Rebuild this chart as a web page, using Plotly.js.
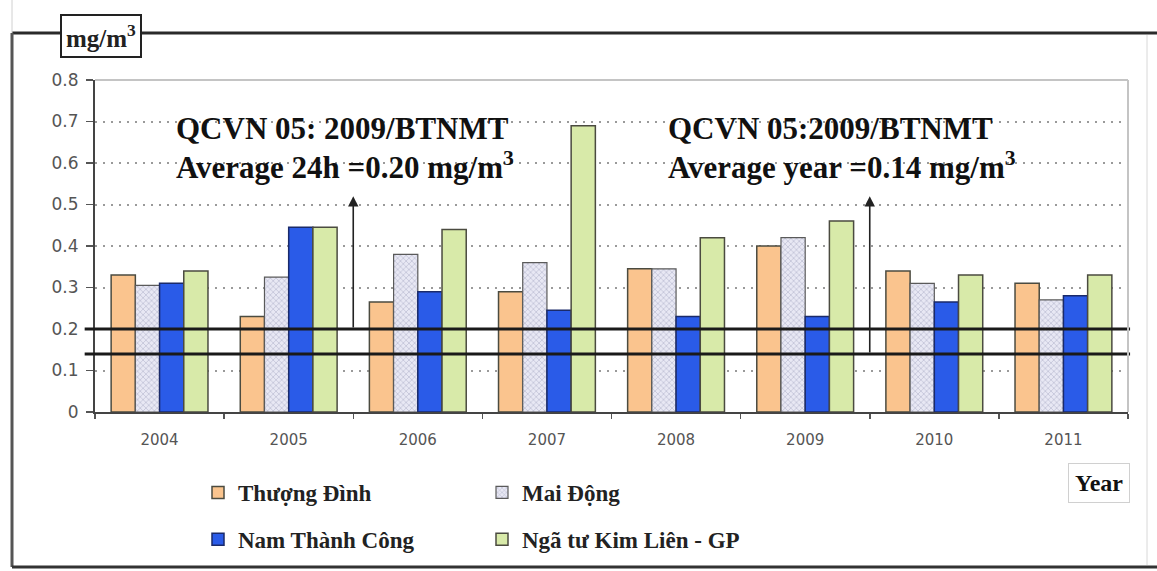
<!DOCTYPE html>
<html>
<head>
<meta charset="utf-8">
<script src="https://cdn.plot.ly/plotly-3.0.1.min.js"></script>
<style>html,body{margin:0;padding:0;background:#fff;}#chart{width:1157px;height:571px;}</style>
</head>
<body>
<div id="chart"></div>
<script>
// ---- data ----
const years = ['2004','2005','2006','2007','2008','2009','2010','2011'];
const seriesNames = ['Thượng Đình','Mai Động','Nam Thành Công','Ngã tư Kim Liên - GP'];
const thuongDinh   = [0.33, 0.23, 0.265, 0.29, 0.345, 0.40, 0.34, 0.31];
const maiDong      = [0.305, 0.325, 0.38, 0.36, 0.345, 0.42, 0.31, 0.27];
const namThanhCong = [0.31, 0.445, 0.29, 0.245, 0.23, 0.23, 0.265, 0.28];
const kimLien      = [0.34, 0.445, 0.44, 0.69, 0.42, 0.46, 0.33, 0.33];
const limit24h = 0.20;
const limitYear = 0.14;
const yTicks = [0, 0.1, 0.2, 0.3, 0.4, 0.5, 0.6, 0.7, 0.8];
const yTickText = ['0','0.1','0.2','0.3','0.4','0.5','0.6','0.7','0.8'];
const note1 = ['QCVN 05: 2009/BTNMT', 'Average 24h =0.20 mg/m<sup>3</sup>'];
const note2 = ['QCVN 05:2009/BTNMT', 'Average year =0.14 mg/m<sup>3</sup>'];
const unitLabel = 'mg/m<sup>3</sup>';
const xLabel = 'Year';

// ---- plot ----
const edge = '#4b4b40';
const serif = 'Liberation Serif, Times New Roman, serif';
const traces = [
  {name: seriesNames[0], y: thuongDinh, marker: {color: '#fac48e', line: {color: edge, width: 1.5}}, legend: 'legend', legendgroup: 'a'},
  {name: seriesNames[1], y: maiDong, marker: {color: '#e4e4f1', line: {color: '#5a5a5a', width: 1.2},
     pattern: {shape: 'x', fgcolor: '#aeb0c8', bgcolor: '#e8e8f4', size: 4, solidity: 0.25}}, legend: 'legend2', legendgroup: 'b'},
  {name: seriesNames[2], y: namThanhCong, marker: {color: '#2a5be8', line: {color: '#1a2a6a', width: 1.5}}, legend: 'legend', legendgroup: 'c'},
  {name: seriesNames[3], y: kimLien, marker: {color: '#d8eaa9', line: {color: edge, width: 1.5}}, legend: 'legend2', legendgroup: 'd'}
].map(t => Object.assign({type: 'bar', x: years, hoverinfo: 'skip'}, t));

const L = 95, R = 1128, T = 80, B = 412;
const px = v => (v - L) / (R - L);
const py = v => (B - v) / (B - T);

const shapes = [
  // white panels behind notes (between grid and traces)
  {type: 'rect', xref: 'paper', yref: 'paper', x0: px(163), x1: px(542), y0: py(186), y1: py(104), fillcolor: '#fff', line: {width: 0}, layer: 'between'},
  {type: 'rect', xref: 'paper', yref: 'paper', x0: px(655), x1: px(1036), y0: py(186), y1: py(104), fillcolor: '#fff', line: {width: 0}, layer: 'between'},
  // threshold lines
  {type: 'line', xref: 'paper', yref: 'y', x0: -0.01, x1: 1.002, y0: limit24h, y1: limit24h, line: {color: '#1a1a1a', width: 3}},
  {type: 'line', xref: 'paper', yref: 'y', x0: -0.01, x1: 1.002, y0: limitYear, y1: limitYear, line: {color: '#1a1a1a', width: 3}},
  // plot frame top / right (light)
  {type: 'line', xref: 'paper', yref: 'paper', x0: 0, x1: 1, y0: 1, y1: 1, line: {color: '#c4c4c4', width: 2}},
  {type: 'line', xref: 'paper', yref: 'paper', x0: 1, x1: 1, y0: 0, y1: 1, line: {color: '#c4c4c4', width: 2}},
  // outer frame
  {type: 'line', xref: 'paper', yref: 'paper', x0: px(12), x1: px(1157), y0: py(33), y1: py(33), line: {color: '#2a2a2a', width: 3}},
  {type: 'line', xref: 'paper', yref: 'paper', x0: px(12), x1: px(12), y0: py(33), y1: py(567), line: {color: '#555', width: 3}},
  {type: 'line', xref: 'paper', yref: 'paper', x0: px(12), x1: px(1157), y0: py(567), y1: py(567), line: {color: '#333', width: 3}},
  {type: 'line', xref: 'paper', yref: 'paper', x0: px(1147), x1: px(1147), y0: py(35), y1: py(565), line: {color: '#d8d8d8', width: 1}},
  {type: 'line', xref: 'paper', yref: 'paper', x0: px(12), x1: px(12), y0: py(0), y1: py(33), line: {color: '#d0d0d0', width: 1}}
];

const noteFont = {family: serif, size: 31, color: '#111'};
const annotations = [
  {xref: 'paper', yref: 'paper', x: px(174), y: py(128), xanchor: 'left', yanchor: 'middle', text: '<b>' + note1[0] + '</b>', showarrow: false, font: noteFont},
  {xref: 'paper', yref: 'paper', x: px(174), y: py(165), xanchor: 'left', yanchor: 'middle', text: '<b>' + note1[1] + '</b>', showarrow: false, font: noteFont},
  {xref: 'paper', yref: 'paper', x: px(666), y: py(128), xanchor: 'left', yanchor: 'middle', text: '<b>' + note2[0] + '</b>', showarrow: false, font: noteFont},
  {xref: 'paper', yref: 'paper', x: px(666), y: py(165), xanchor: 'left', yanchor: 'middle', text: '<b>' + note2[1] + '</b>', showarrow: false, font: noteFont},
  // arrows
  {xref: 'x', yref: 'y', axref: 'x', ayref: 'y', x: 1.5, y: 0.52, ax: 1.5, ay: limit24h, text: '', showarrow: true, arrowhead: 2, arrowsize: 1.3, arrowwidth: 1.6, arrowcolor: '#222', standoff: 0, startstandoff: 0},
  {xref: 'x', yref: 'y', axref: 'x', ayref: 'y', x: 5.5, y: 0.52, ax: 5.5, ay: limitYear, text: '', showarrow: true, arrowhead: 2, arrowsize: 1.3, arrowwidth: 1.6, arrowcolor: '#222', standoff: 0, startstandoff: 0},
  // unit box
  {xref: 'paper', yref: 'paper', x: px(101), y: py(36), xanchor: 'center', yanchor: 'middle', text: '<b>' + unitLabel + '</b>', showarrow: false,
   font: {family: serif, size: 25, color: '#222'}, bgcolor: '#fff', bordercolor: '#222', borderwidth: 2, borderpad: 4},
  // Year box
  {xref: 'paper', yref: 'paper', x: px(1068), y: py(483), xanchor: 'left', yanchor: 'middle', text: '<b>' + xLabel + '</b>', showarrow: false,
   font: {family: serif, size: 24, color: '#111'}, bgcolor: '#fff', bordercolor: '#d0d0d0', borderwidth: 1, borderpad: 6}
];

const legendCommon = {orientation: 'v', font: {family: serif, size: 23, color: '#222', weight: 'bold'}, bgcolor: 'rgba(0,0,0,0)',
  tracegroupgap: 14, itemwidth: 30, xanchor: 'left', yanchor: 'top', traceorder: 'grouped'};

const layout = {
  width: 1157, height: 571,
  margin: {l: L, r: 1157 - R, t: T, b: 571 - B, autoexpand: false},
  paper_bgcolor: '#fff', plot_bgcolor: '#fff',
  barmode: 'group', bargap: 0.25, bargroupgap: 0,
  showlegend: true,
  legend: Object.assign({}, legendCommon, {x: px(198), y: py(471)}),
  legend2: Object.assign({}, legendCommon, {x: px(482), y: py(471)}),
  xaxis: {type: 'category', tickson: 'boundaries', ticks: 'outside', ticklen: 5, tickwidth: 1.5, tickcolor: '#555',
    showline: true, linecolor: '#444', linewidth: 2, showgrid: false, zeroline: false,
    tickfont: {family: 'DejaVu Sans, sans-serif', size: 15, color: '#555'}, ticklabelstandoff: 13},
  yaxis: {range: [0, 0.8], tickvals: yTicks, ticktext: yTickText, ticks: 'outside', ticklen: 7, tickwidth: 1.5, tickcolor: '#555',
    showline: true, linecolor: '#444', linewidth: 2, zeroline: false,
    showgrid: true, gridcolor: '#9a9a9a', gridwidth: 2, griddash: '2px,6px',
    tickfont: {family: 'DejaVu Sans, sans-serif', size: 17, color: '#555'}, ticklabelstandoff: 4},
  shapes: shapes,
  annotations: annotations
};

Plotly.newPlot('chart', traces, layout, {displayModeBar: false, staticPlot: true});
</script>
</body>
</html>
